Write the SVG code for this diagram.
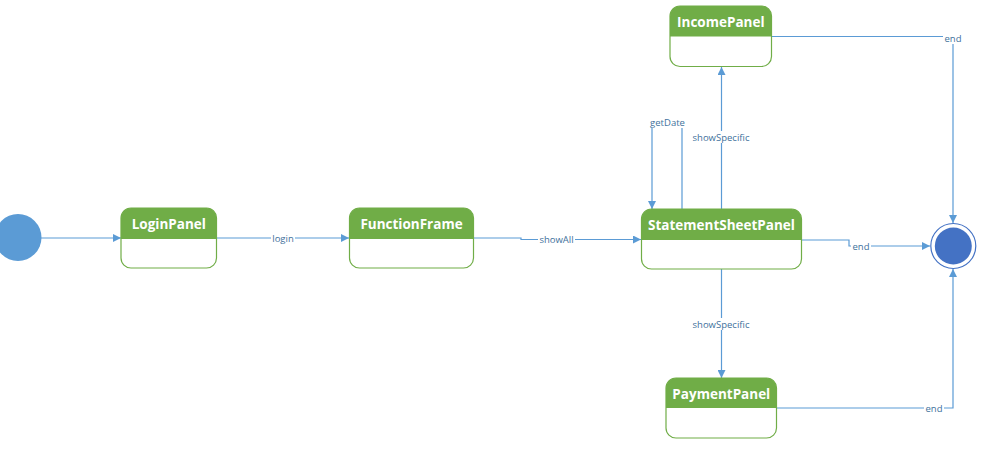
<svg xmlns="http://www.w3.org/2000/svg" width="985" height="451" viewBox="0 0 985 451">
<style>
.st rect.b{fill:#ffffff;stroke:#70ad47;stroke-width:1.2}
.st path.h{fill:#70ad47}
.st text{font-family:"Open Sans","Noto Sans",sans-serif;font-weight:bold;font-size:13.5px;fill:#ffffff;text-anchor:middle}
.c path{fill:none;stroke:#5b9bd5;stroke-width:1.2}
.lbl rect{fill:#ffffff}
.lbl text{font-family:"Open Sans","Noto Sans",sans-serif;font-size:9.5px;fill:#41719c;text-anchor:middle}
</style>
<defs>
<marker id="ah" viewBox="0 0 10 10" refX="10" refY="5" markerWidth="8" markerHeight="8" markerUnits="userSpaceOnUse" orient="auto">
<path d="M0,0 L10,5 L0,10 Z" fill="#5b9bd5"/>
</marker>
</defs>
<rect width="985" height="451" fill="#ffffff"/>
<g class="c" id="connectors">
<path d="M41,238 H121" marker-end="url(#ah)"/>
<path d="M217,238 H349" marker-end="url(#ah)"/>
<path d="M473,238 H521 V239.5 H641" marker-end="url(#ah)"/>
<path d="M802,240 H849 V246 H930" marker-end="url(#ah)"/>
<path d="M721.5,209 V67" marker-end="url(#ah)"/>
<path d="M682,209 V122 H652 V209" marker-end="url(#ah)"/>
<path d="M721.5,269 V378" marker-end="url(#ah)"/>
<path d="M772,36.5 H953 V223" marker-end="url(#ah)"/>
<path d="M777,408 H953 V269" marker-end="url(#ah)"/>
</g>
<g class="lbl" id="labels">
<rect x="271" y="232" width="24" height="12"/><text x="283" y="241.5">login</text>
<rect x="538" y="233" width="37" height="12"/><text x="556.5" y="243">showAll</text>
<rect x="851" y="240" width="20" height="12"/><text x="861" y="249.5">end</text>
<rect x="943" y="32" width="20" height="12"/><text x="953" y="41.5">end</text>
<rect x="924" y="402" width="20" height="12"/><text x="934" y="411.5">end</text>
<rect x="648" y="116" width="39" height="12"/><text x="667.5" y="125.5">getDate</text>
<rect x="692" y="131" width="58" height="12"/><text x="721" y="140.5">showSpecific</text>
<rect x="692" y="318" width="58" height="12"/><text x="721" y="327.5">showSpecific</text>
</g>
<g id="initial"><circle cx="18" cy="237.5" r="23.5" fill="#5b9bd5"/></g>
<g id="final"><circle cx="953.3" cy="246" r="22.5" fill="#ffffff" stroke="#4472c4" stroke-width="1.2"/><circle cx="953.3" cy="246" r="18.5" fill="#4472c4"/></g>
<g class="st" id="LoginPanel">
<rect class="b" x="121" y="208" width="95.5" height="60" rx="10"/>
<path class="h" d="M121,239 V218 A10,10 0 0 1 131,208 H206.5 A10,10 0 0 1 216.5,218 V239 Z"/>
<text x="168.8" y="228.5">LoginPanel</text>
</g>
<g class="st" id="FunctionFrame">
<rect class="b" x="349.5" y="208" width="124" height="60" rx="10"/>
<path class="h" d="M349.5,239 V218 A10,10 0 0 1 359.5,208 H463.5 A10,10 0 0 1 473.5,218 V239 Z"/>
<text x="411.5" y="228.5">FunctionFrame</text>
</g>
<g class="st" id="StatementSheetPanel">
<rect class="b" x="641.5" y="209" width="160" height="60" rx="10"/>
<path class="h" d="M641.5,240 V219 A10,10 0 0 1 651.5,209 H791.5 A10,10 0 0 1 801.5,219 V240 Z"/>
<text x="721.5" y="229.5">StatementSheetPanel</text>
</g>
<g class="st" id="IncomePanel">
<rect class="b" x="670" y="6" width="101.5" height="60.5" rx="10"/>
<path class="h" d="M670,36.5 V16 A10,10 0 0 1 680,6 H761.5 A10,10 0 0 1 771.5,16 V36.5 Z"/>
<text x="720.8" y="26.5">IncomePanel</text>
</g>
<g class="st" id="PaymentPanel">
<rect class="b" x="666" y="378" width="110.5" height="60" rx="10"/>
<path class="h" d="M666,408 V388 A10,10 0 0 1 676,378 H766.5 A10,10 0 0 1 776.5,388 V408 Z"/>
<text x="721.3" y="398.5">PaymentPanel</text>
</g>
</svg>
